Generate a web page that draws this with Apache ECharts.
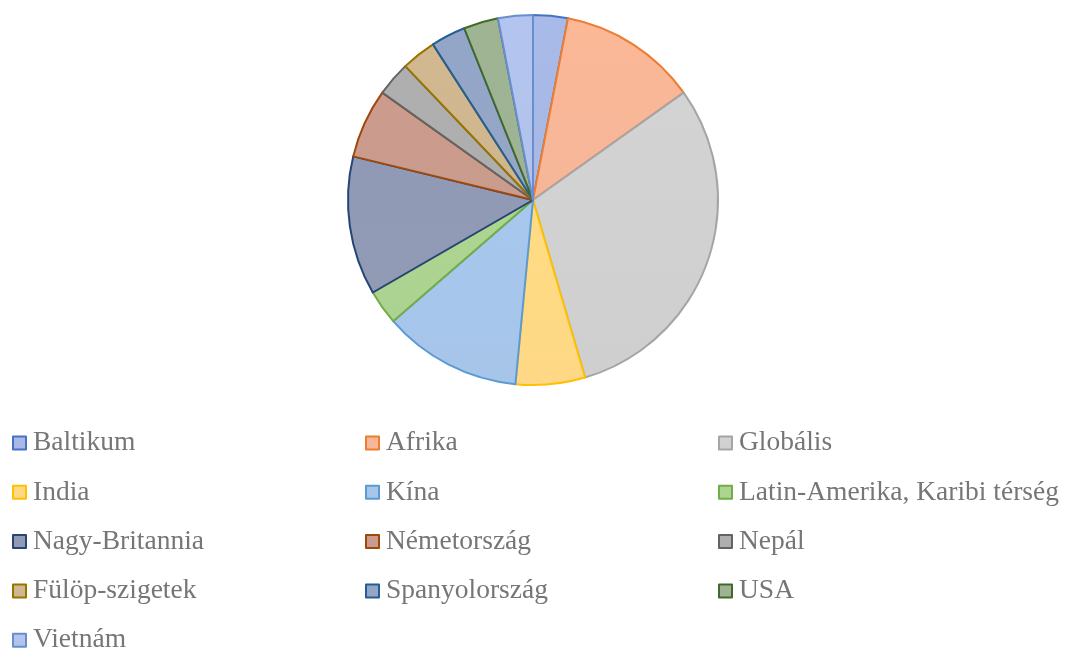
<!DOCTYPE html>
<html>
<head>
<meta charset="utf-8">
<script src="https://cdn.jsdelivr.net/npm/echarts@6/dist/echarts.min.js"></script>
<style>
	html, body { margin: 0; padding: 0; background: #fff; }
	#chart { width: 1065px; height: 651px; }
</style>
</head>
<body>
<div id="chart"></div>
<script>
	// categories and values, in slice order (clockwise from 12 o'clock)
	let categories = ['Baltikum', 'Afrika', 'Globális', 'India', 'Kína', 'Latin-Amerika, Karibi térség',
		'Nagy-Britannia', 'Németország', 'Nepál', 'Fülöp-szigetek', 'Spanyolország', 'USA', 'Vietnám'];
	let values = [1, 4, 10, 2, 4, 1, 4, 2, 1, 1, 1, 1, 1];

	// legend columns
	let legendCol1 = ['Baltikum', 'India', 'Nagy-Britannia', 'Fülöp-szigetek', 'Vietnám'];
	let legendCol2 = ['Afrika', 'Kína', 'Németország', 'Spanyolország'];
	let legendCol3 = ['Globális', 'Latin-Amerika, Karibi térség', 'Nepál', 'USA'];

	let fillColors = ['#a4b5e3', '#f5b393', '#cdcdcd', '#fed680', '#a3c2e8', '#a8d08c',
		'#8c96b1', '#c79789', '#aaaaaa', '#ccb38b', '#90a2c3', '#9aaf8f', '#aec0e9'];
	let borderColors = ['#4472c4', '#ed7d31', '#a5a5a5', '#ffc000', '#5b9bd5', '#70ad47',
		'#264478', '#9e480e', '#636363', '#997300', '#255e91', '#43682b', '#698ed0'];

	let myChart = echarts.init(document.getElementById('chart'));

	let pieData = [];
	categories.forEach(function(name, i) {
		pieData.push({
			name: name,
			value: values[i],
			itemStyle: {
				color: new echarts.graphic.LinearGradient(0, 0, 0, 1, [
					{ offset: 0, color: echarts.color.lift(fillColors[i], -0.03) },
					{ offset: 1, color: echarts.color.lift(fillColors[i], 0.05) }
				]),
				borderColor: borderColors[i],
				borderWidth: 2
			}
		})
	});

	function legendAt(left, data) {
		return {
			orient: 'vertical',
			left: left,
			top: 428,
			height: 240,
			data: data,
			icon: 'rect',
			itemWidth: 13,
			itemHeight: 13,
			itemGap: 19.3,
			selectedMode: false,
			textStyle: {
				fontFamily: 'Liberation Serif',
				fontSize: 27.5,
				lineHeight: 30,
				color: '#767676',
				padding: [0, 0, 0, 2]
			},
			padding: 0
		}
	}

	let option = {
		animation: false,
		legend: [
			legendAt(12, legendCol1),
			legendAt(365, legendCol2),
			legendAt(718, legendCol3)
		],
		series: [
			{
				type: 'pie',
				center: [533, 200],
				radius: 185,
				startAngle: 90,
				clockwise: true,
				label: { show: false },
				labelLine: { show: false },
				emphasis: { disabled: true },
				data: pieData
			}
		]
	};

	myChart.setOption(option);
</script>
</body>
</html>
